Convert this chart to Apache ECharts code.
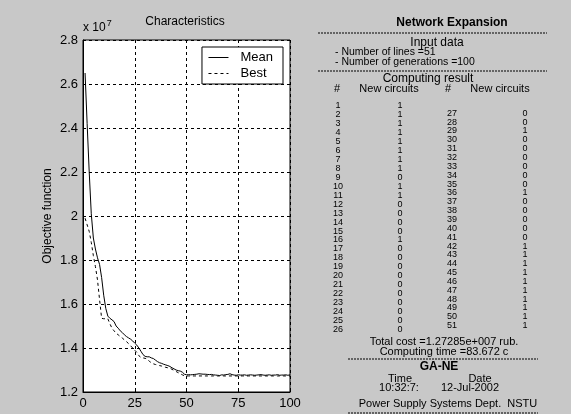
<!DOCTYPE html>
<html>
<head>
<meta charset="utf-8">
<script src="https://cdn.jsdelivr.net/npm/echarts@6/dist/echarts.min.js"></script>
<style>
html,body{margin:0;padding:0;background:#c8c8c8;}
#chart{width:571px;height:414px;}
</style>
</head>
<body>
<div id="chart"></div>
<script>
// ---- data (objective function, units of 1e7) ----
var meanValues = [
 2.65,2.42,2.20,2.01,1.90,1.85,1.81,1.78,1.72,1.64,
 1.58,1.545,1.535,1.528,1.52,1.50,1.49,1.478,1.47,1.46,
 1.452,1.446,1.44,1.432,1.422,1.413,1.40,1.385,1.37,1.362,
 1.36,1.36,1.355,1.352,1.345,1.338,1.333,1.33,1.326,1.323,
 1.32,1.316,1.31,1.305,1.30,1.297,1.295,1.29,1.281,1.278,
 1.279,1.278,1.279,1.280,1.281,1.283,1.282,1.281,1.281,1.280,
 1.279,1.280,1.278,1.277,1.276,1.275,1.278,1.277,1.279,1.280,
 1.283,1.279,1.277,1.276,1.278,1.277,1.277,1.278,1.276,1.277,
 1.278,1.277,1.276,1.277,1.278,1.279,1.277,1.276,1.277,1.278,
 1.276,1.277,1.277,1.279,1.276,1.277,1.277,1.278,1.276,1.278
];
var bestValues = [
 1.99,1.96,1.93,1.88,1.82,1.77,1.71,1.62,1.535,1.533,
 1.533,1.533,1.51,1.49,1.478,1.467,1.46,1.452,1.445,1.437,
 1.429,1.42,1.41,1.40,1.39,1.38,1.365,1.357,1.355,1.353,
 1.35,1.34,1.333,1.328,1.325,1.323,1.32,1.318,1.315,1.312,
 1.31,1.308,1.303,1.298,1.293,1.288,1.283,1.278,1.274,1.273,
 1.273,1.273,1.273,1.273,1.273,1.273,1.273,1.273,1.273,1.273,
 1.273,1.273,1.273,1.273,1.273,1.273,1.273,1.273,1.273,1.273,
 1.273,1.273,1.273,1.273,1.273,1.273,1.273,1.273,1.273,1.273,
 1.273,1.273,1.273,1.273,1.273,1.273,1.273,1.273,1.273,1.273,
 1.273,1.273,1.273,1.273,1.273,1.273,1.273,1.273,1.273,1.273
];
var seriesNames = ['Mean', 'Best'];
var xTicks = [0, 25, 50, 75, 100];
var yTicks = [1.2, 1.4, 1.6, 1.8, 2, 2.2, 2.4, 2.6, 2.8];

// ---- table data ----
var leftIds = [1,2,3,4,5,6,7,8,9,10,11,12,13,14,15,16,17,18,19,20,21,22,23,24,25,26];
var leftCircuits = [1,1,1,1,1,1,1,1,0,1,1,0,0,0,0,1,0,0,0,0,0,0,0,0,0,0];
var rightIds = [27,28,29,30,31,32,33,34,35,36,37,38,39,40,41,42,43,44,45,46,47,48,49,50,51];
var rightCircuits = [0,0,1,0,0,0,0,0,0,1,0,0,0,0,0,1,1,1,1,1,1,1,1,1,1];
var panelTitle = 'Network Expansion';
var inputLines = ['- Number of lines =51', '- Number of generations =100'];
var totalCostText = 'Total cost =1.27285e+007 rub.';
var computingTimeText = 'Computing time =83.672 c';
var timeText = '10:32:7:';
var dateText = '12-Jul-2002';
var footerText = 'Power Supply Systems Dept.  NSTU';

var FONT = 'Liberation Sans, Arial, sans-serif';

function pairs(vals){ return vals.map(function(v,i){ return [i+1, v]; }); }

var chart = echarts.init(document.getElementById('chart'));

var g = [];
function txt(x, y, s, opt){
  opt = opt || {};
  g.push({type:'text', x:x, y:y, silent:true, style:{
    text:s, fill:'#000', font:(opt.bold?'bold ':'') + (opt.size||11) + 'px ' + FONT,
    textAlign: opt.align||'center', textVerticalAlign:'middle'
  }});
}
function dash(x1, x2, y){
  g.push({type:'line', silent:true, shape:{x1:x1,y1:y,x2:x2,y2:y},
    style:{stroke:'#000', lineWidth:1, lineDash:[2,1]}});
}

// left chart texts
txt(185, 22, 'Characteristics', {size:12});
g.push({type:'text', x:83, y:28, silent:true, style:{
  text:'{a|x 10}{b|7}', textVerticalAlign:'middle',
  rich:{a:{fontSize:12, fontFamily:FONT, fill:'#000'}, b:{fontSize:9, fontFamily:FONT, fill:'#000', verticalAlign:'top', padding:[0,0,8,1]}}
}});

// right panel
txt(452, 23, panelTitle, {bold:true, size:12});
dash(318, 547, 33);
txt(437, 43, 'Input data', {size:12});
txt(335, 52, inputLines[0], {align:'left', size:10.5});
txt(335, 62, inputLines[1], {align:'left', size:10.5});
dash(318, 547, 71);
txt(428, 79, 'Computing result', {size:12});
txt(337, 89, '#', {size:11});
txt(389, 89, 'New circuits', {size:11});
txt(448, 89, '#', {size:11});
txt(500, 89, 'New circuits', {size:11});
leftIds.forEach(function(id, i){
  var y = 106 + i*8.93;
  txt(338, y, String(id), {size:9});
  txt(400, y, String(leftCircuits[i]), {size:9});
});
rightIds.forEach(function(id, i){
  var y = 113.3 + i*8.85;
  txt(452, y, String(id), {size:9});
  txt(525, y, String(rightCircuits[i]), {size:9});
});
txt(444, 342, totalCostText, {size:11});
txt(444, 352, computingTimeText, {size:11});
dash(348, 538, 359);
txt(439, 367, 'GA-NE', {bold:true, size:12});
txt(400, 379, 'Time', {size:11});
txt(480, 379, 'Date', {size:11});
txt(399, 388, timeText, {size:11});
txt(470, 388, dateText, {size:11});
txt(448, 404, footerText, {size:11});
dash(348, 538, 413);

chart.setOption({
  backgroundColor:'#c8c8c8',
  animation:false,
  textStyle:{fontFamily:FONT},
  grid:{left:83, top:40, right:281, bottom:22, show:true, backgroundColor:'#fff', borderColor:'#000', borderWidth:1},
  legend:{
    data:seriesNames, orient:'vertical', right:288, top:47,
    backgroundColor:'#fff', borderColor:'#000', borderWidth:1,
    padding:[4,10,4,6], itemGap:3, itemWidth:20, itemHeight:14,
    itemStyle:{opacity:0},
    lineStyle:{width:1, color:'#000'},
    textStyle:{fontSize:13, color:'#000', padding:[0,0,0,7], fontFamily:FONT}
  },
  xAxis:{
    type:'value', min:xTicks[0], max:xTicks[xTicks.length-1], interval:25,
    axisLine:{lineStyle:{color:'#000'}}, axisTick:{inside:true, length:3, lineStyle:{color:'#000'}},
    axisLabel:{color:'#000', fontSize:13, margin:5, fontFamily:FONT},
    splitLine:{show:true, lineStyle:{color:'#000', type:[3,3], width:1}}
  },
  yAxis:{
    type:'value', min:yTicks[0], max:yTicks[yTicks.length-1], interval:0.2,
    name:'Objective function', nameLocation:'middle', nameGap:29,
    nameTextStyle:{color:'#000', fontSize:12, fontFamily:FONT},
    axisLine:{show:true, lineStyle:{color:'#000'}}, axisTick:{inside:true, length:3, lineStyle:{color:'#000'}},
    axisLabel:{color:'#000', fontSize:13, margin:5, fontFamily:FONT, formatter:function(v){ return String(Math.round(v*10)/10); }},
    splitLine:{show:true, lineStyle:{color:'#000', type:[3,3], width:1}}
  },
  series:[
    {name:seriesNames[0], type:'line', data:pairs(meanValues), symbol:'none', lineStyle:{color:'#000', width:1, type:'solid'}, itemStyle:{color:'#000'}},
    {name:seriesNames[1], type:'line', data:pairs(bestValues), symbol:'none', lineStyle:{color:'#000', width:1, type:[3,3]}, itemStyle:{color:'#000'}}
  ],
  graphic:g
});
</script>
</body>
</html>
